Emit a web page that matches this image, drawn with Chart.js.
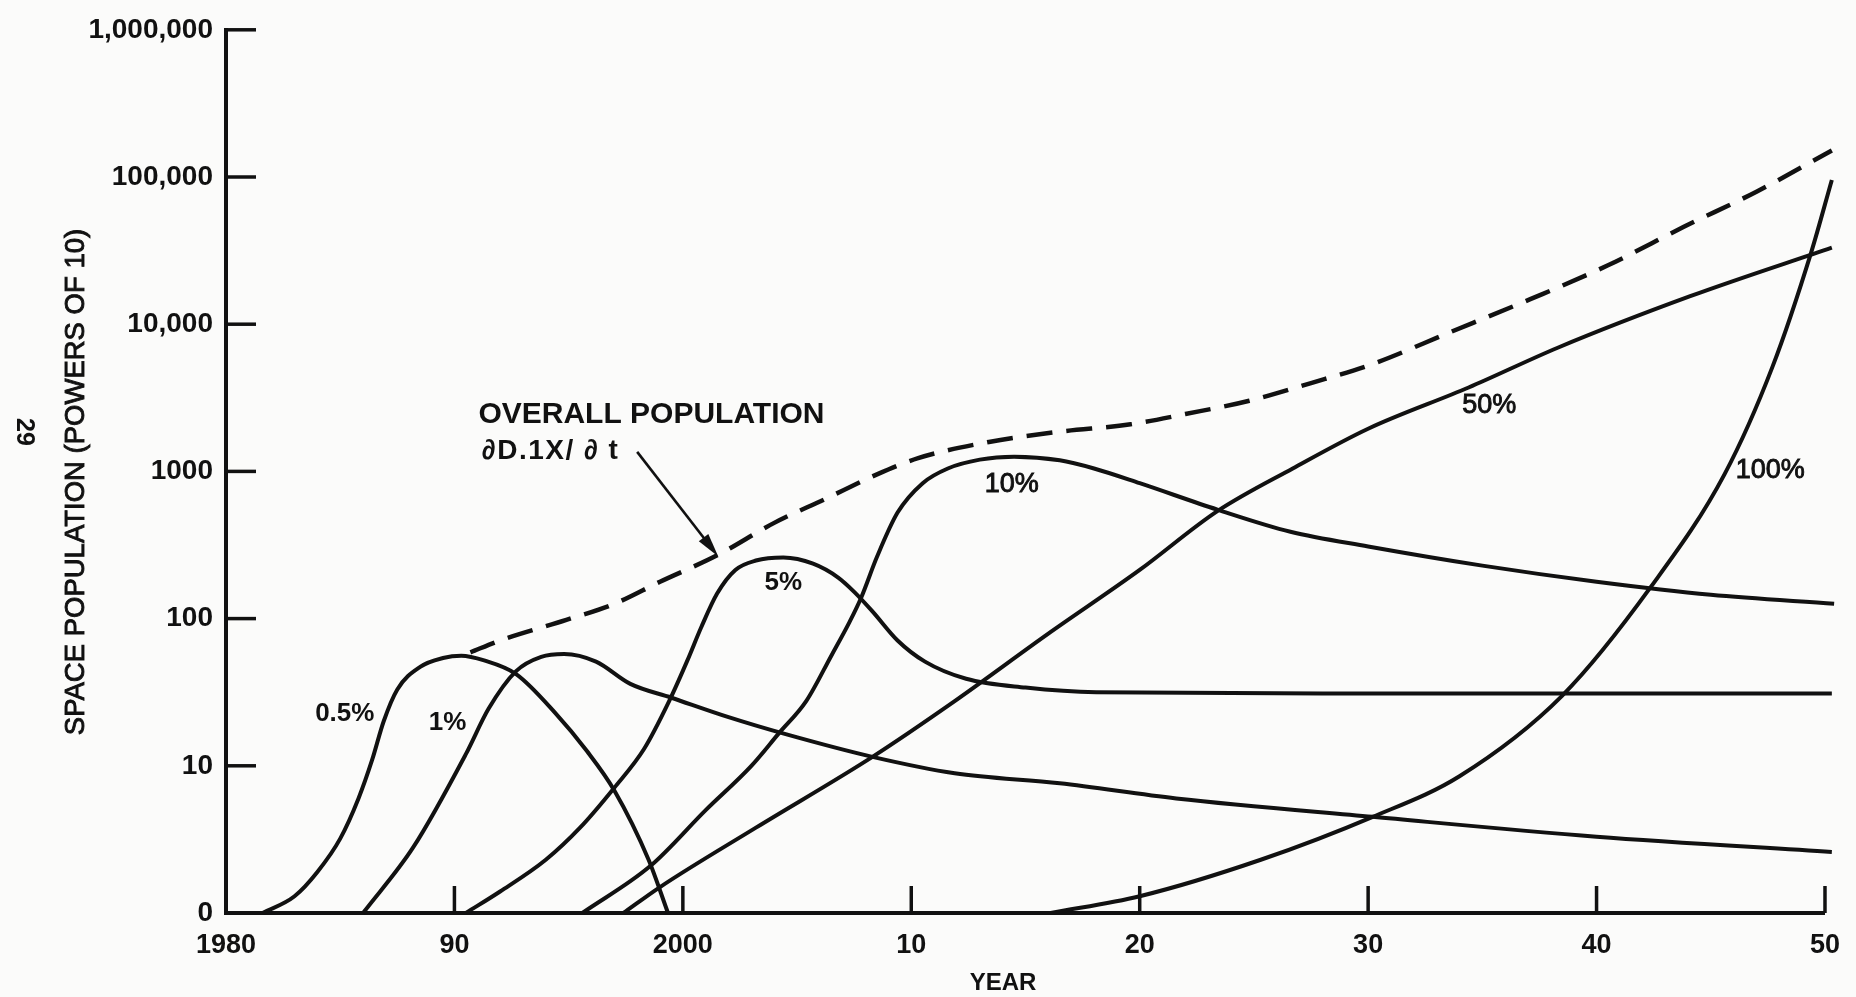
<!DOCTYPE html>
<html>
<head>
<meta charset="utf-8">
<title>Space population</title>
<script src="https://cdn.jsdelivr.net/npm/chart.js@4.4.1/dist/chart.umd.min.js"></script>
<style>
	html, body { margin: 0; padding: 0; background: #fbfbfa; }
	#popChart { display: block; }
</style>
</head>
<body>
<canvas id="popChart" width="1856" height="997"></canvas>
<script>
// DATA - years and population ("0" on the axis is 1 on the log scale)

const years05 = [1981.6, 1983, 1984, 1985, 1985.8, 1986.4, 1986.9, 1987.5, 1988.5, 1989.5, 1990.3, 1991.3, 1992.7, 1994.4, 1995.8, 1997, 1998.5, 1999.35];
const pop05 = [1, 1.3, 1.9, 3.2, 6, 11, 20, 33, 47, 54, 56, 52, 42, 23, 12.6, 6.8, 2.3, 1];

const years1 = [1986, 1988.2, 1990.5, 1991.5, 1992.7, 1993.8, 1994.8, 1996.2, 1997.7, 1999.5, 2002, 2004.5, 2008.3, 2011.9, 2016.5, 2021.6, 2030.2, 2040, 2050.3];
const pop1 = [1, 2.8, 12, 24.5, 44, 55, 57.5, 51, 36, 29, 21.4, 16.4, 11.5, 8.9, 7.6, 6, 4.5, 3.3, 2.6];

const years5 = [1990.5, 1992, 1994, 1995.5, 1997, 1998.3, 1999.4, 2000.2, 2000.8, 2001.5, 2002.3, 2003.2, 2004.4, 2005.7, 2006.8, 2007.5, 2008.3, 2009.4, 2010.6, 2012.4, 2015, 2018.1, 2030, 2040, 2050.3];
const pop5 = [1, 1.4, 2.3, 3.8, 7.1, 13, 27.5, 52, 87, 148, 214, 248, 260, 236, 190, 152, 112, 71, 51, 39, 34, 31.6, 31, 31, 31];

const years10 = [1995.6, 1998.6, 2001, 2003, 2004.2, 2005.4, 2006.5, 2007.3, 2007.8, 2008.5, 2009.4, 2010.5, 2011.6, 2013, 2014.5, 2016.5, 2018, 2020, 2023.4, 2026.6, 2030, 2035, 2040, 2045, 2050.4];
const pop10 = [1, 2.1, 5, 10, 16.6, 27.5, 56, 95, 138, 263, 525, 832, 1047, 1202, 1259, 1190, 1047, 832, 550, 389, 309, 229, 178, 145, 126];

const years50 = [1997.4, 1999, 2003.2, 2008.3, 2011.9, 2016, 2020, 2023.4, 2026.7, 2030, 2034.4, 2038.3, 2044.1, 2050.3];
const pop50 = [1, 1.5, 3.8, 11.5, 27.5, 79, 214, 537, 1047, 1950, 3715, 6918, 15488, 33113];

const years100 = [2016.1, 2020, 2025.3, 2030.2, 2034, 2038.5, 2042.4, 2045.6, 2047.7, 2049.4, 2050.3];
const pop100 = [1, 1.3, 2.3, 4.5, 8.5, 30, 166, 955, 5129, 30903, 95499];

const yearsAll = [1990.7, 1992, 1994.9, 1997, 1999, 2001.5, 2004, 2006.2, 2008.5, 2010.3, 2013.4, 2016.5, 2019.6, 2022, 2024.8, 2027.5, 2030.2, 2033.5, 2037.1, 2040.5, 2043.8, 2047, 2050.3];
const popAll = [59, 71, 98, 126, 178, 269, 447, 646, 955, 1230, 1585, 1862, 2089, 2455, 3020, 3981, 5370, 8710, 14791, 25119, 45709, 79433, 151356];

const curveNames = ["0.5%", "1%", "5%", "10%", "50%", "100%"];
const xTickValues = [1980, 1990, 2000, 2010, 2020, 2030, 2040, 2050];
const xTickLabels = ["1980", "90", "2000", "10", "20", "30", "40", "50"];
const yTickValues = [1, 10, 100, 1000, 10000, 100000, 1000000];
const yTickLabels = ["0", "10", "100", "1000", "10,000", "100,000", "1,000,000"];

// where the curve names sit (year, population)
const curveLabelYears = [1985.2, 1989.7, 2004.4, 2014.4, 2035.3, 2047.6];
const curveLabelValues = [22.5, 19.6, 174, 810, 2820, 1010];

// SET-UP

const INK = "#111";
const FONT = "'Liberation Sans', Arial, Helvetica, sans-serif";

function pts(xs, ys) {
	return xs.map((x, i) => ({ x: x, y: ys[i] }));
}

function curve(label, xs, ys) {
	return {
		label: label,
		data: pts(xs, ys),
		borderColor: INK,
		borderWidth: 4,
		pointRadius: 0,
		fill: false,
		clip: false,
		cubicInterpolationMode: "monotone",
	};
}

const overall = curve("OVERALL POPULATION", yearsAll, popAll);
overall.borderDash = [26, 14];
overall.borderWidth = 4.5;

const data = {
	datasets: [
		curve(curveNames[0], years05, pop05),
		curve(curveNames[1], years1, pop1),
		curve(curveNames[2], years5, pop5),
		curve(curveNames[3], years10, pop10),
		curve(curveNames[4], years50, pop50),
		curve(curveNames[5], years100, pop100),
		overall,
	],
};

// paper colour behind everything
const paper = {
	id: "paper",
	beforeDraw(chart) {
		const ctx = chart.ctx;
		ctx.save();
		ctx.fillStyle = "#fbfbfa";
		ctx.fillRect(0, 0, chart.width, chart.height);
		ctx.restore();
	},
};

// text a little heavier than regular, like the print
function mediumText(ctx, text, x, y) {
	ctx.fillText(text, x, y);
	ctx.lineWidth = 0.9;
	ctx.strokeText(text, x, y);
}

// inward tick marks, titles, curve names, arrow
const marks = {
	id: "marks",
	afterDraw(chart) {
		const ctx = chart.ctx;
		const x = chart.scales.x;
		const y = chart.scales.y;
		const area = chart.chartArea;

		ctx.save();
		ctx.strokeStyle = INK;
		ctx.fillStyle = INK;
		ctx.lineWidth = 3.5;
		ctx.lineCap = "butt";

		xTickValues.slice(1).forEach((v) => {
			const px = x.getPixelForValue(v);
			ctx.beginPath();
			ctx.moveTo(px, area.bottom);
			ctx.lineTo(px, area.bottom - 27);
			ctx.stroke();
		});
		yTickValues.slice(1).forEach((v) => {
			const py = y.getPixelForValue(v);
			ctx.beginPath();
			ctx.moveTo(area.left, py);
			ctx.lineTo(area.left + 30, py);
			ctx.stroke();
		});

		// axis titles
		ctx.textBaseline = "middle";
		ctx.textAlign = "center";
		ctx.save();
		ctx.translate(76, 482);
		ctx.rotate(-Math.PI / 2);
		ctx.font = "27.5px " + FONT;
		mediumText(ctx, "SPACE POPULATION (POWERS OF 10)", 0, 0);
		ctx.restore();

		ctx.save();
		ctx.translate(24, 432);
		ctx.rotate(Math.PI / 2);
		ctx.font = "bold 25px " + FONT;
		ctx.fillText("29", 0, 0);
		ctx.restore();

		ctx.font = "bold 24px " + FONT;
		ctx.fillText("YEAR", 1003, 983);

		// curve names
		curveNames.forEach((name, i) => {
			const px = x.getPixelForValue(curveLabelYears[i]);
			const py = y.getPixelForValue(curveLabelValues[i]);
			if (i < 3) {
				ctx.font = "bold 26px " + FONT;
				ctx.fillText(name, px, py);
			} else {
				ctx.font = "27px " + FONT;
				mediumText(ctx, name, px, py);
			}
		});

		// note on the dashed curve
		ctx.textAlign = "left";
		ctx.font = "bold 30px " + FONT;
		ctx.fillText("OVERALL POPULATION", x.getPixelForValue(1991.05), y.getPixelForValue(2415));
		ctx.font = "bold 28px " + FONT;
		ctx.letterSpacing = "1.5px";
		ctx.fillText("\u2202D.1X/ \u2202 t", x.getPixelForValue(1991.2), y.getPixelForValue(1377));
		ctx.letterSpacing = "0px";

		const ax = x.getPixelForValue(1998.0), ay = y.getPixelForValue(1358);
		const bx = x.getPixelForValue(2001.55), by = y.getPixelForValue(264);
		const ang = Math.atan2(by - ay, bx - ax);
		ctx.lineWidth = 2.6;
		ctx.beginPath();
		ctx.moveTo(ax, ay);
		ctx.lineTo(bx - 14 * Math.cos(ang), by - 14 * Math.sin(ang));
		ctx.stroke();
		ctx.beginPath();
		ctx.moveTo(bx, by);
		ctx.lineTo(bx - 24 * Math.cos(ang) + 6 * Math.sin(ang), by - 24 * Math.sin(ang) - 6 * Math.cos(ang));
		ctx.lineTo(bx - 24 * Math.cos(ang) - 6 * Math.sin(ang), by - 24 * Math.sin(ang) + 6 * Math.cos(ang));
		ctx.closePath();
		ctx.fill();

		ctx.restore();
	},
};

// CONFIG

const config = {
	type: "line",
	data: data,
	plugins: [paper, marks],
	options: {
		responsive: false,
		animation: false,
		devicePixelRatio: 1,
		layout: { padding: { top: 26, right: 20, bottom: 0, left: 0 } },
		plugins: {
			legend: { display: false },
			tooltip: { enabled: false },
		},
		scales: {
			x: {
				type: "linear",
				min: 1980,
				max: 2050,
				afterBuildTicks: (s) => { s.ticks = xTickValues.map((v) => ({ value: v })); },
				afterFit: (s) => { s.height = 84; },
				ticks: {
					callback: (v, i) => xTickLabels[i],
					color: INK,
					padding: 16,
					maxRotation: 0,
					autoSkip: false,
					font: { family: FONT, size: 27, weight: "bold" },
				},
				grid: { display: false, drawTicks: false },
				border: { color: INK, width: 4 },
			},
			y: {
				type: "logarithmic",
				min: 1,
				max: 1000000,
				afterBuildTicks: (s) => { s.ticks = yTickValues.map((v) => ({ value: v })); },
				afterFit: (s) => { s.width = 226; },
				ticks: {
					callback: (v, i) => yTickLabels[i],
					color: INK,
					padding: 13,
					autoSkip: false,
					font: { family: FONT, size: 28, weight: "bold" },
				},
				grid: { display: false, drawTicks: false },
				border: { color: INK, width: 4 },
			},
		},
	},
};

// RENDER
var popChart = new Chart(document.getElementById("popChart"), config);
</script>
</body>
</html>
